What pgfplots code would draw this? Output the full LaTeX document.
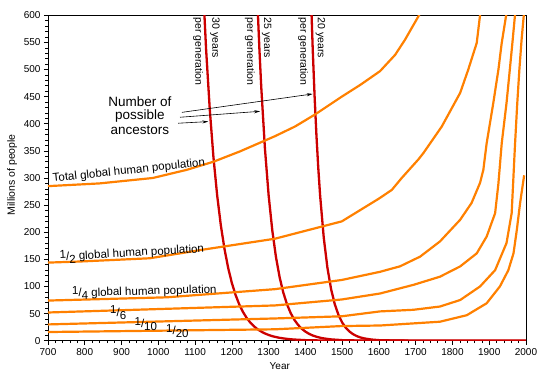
\documentclass[border=0pt]{standalone}
\usepackage{pgfplots}
\pgfplotsset{compat=1.18}
\usetikzlibrary{arrows.meta}
\usepackage{fontspec}
\setmainfont{Liberation Sans}
\definecolor{popor}{RGB}{255,128,0}
\definecolor{ancred}{RGB}{204,0,0}
\newcommand{\fr}[2]{\raisebox{0.4ex}{#1}/\raisebox{-0.5ex}{#2}}
\begin{document}
\begin{tikzpicture}
\path[use as bounding box] (-48pt,-41.3pt) rectangle (502pt,340.7pt);
\begin{axis}[
  at={(0,0)}, anchor=south west,
  scale only axis, width=478pt, height=325.4pt,
  xmin=700, xmax=2000, ymin=0, ymax=600,
  xtick={700,800,...,2000}, ytick={0,50,...,600},
  minor x tick num=4, minor y tick num=4,
  tick align=outside, xtick pos=left, ytick pos=left,
  major tick length=4pt, minor tick length=2.5pt,
  tick style={black, line width=0.6pt},
  axis line style={black, line width=0.8pt},
  /pgf/number format/assume math mode=true,
  /pgf/number format/set thousands separator={},
  ticklabel style={font=\fontsize{10}{12}\selectfont},
  xlabel={Year}, ylabel={Millions of people},
  xlabel style={font=\fontsize{10}{12}\selectfont, at={(axis description cs:0.485,-0.078)}, anchor=center},
  ylabel style={font=\fontsize{10.5}{12}\selectfont, at={(axis description cs:-0.075,0.51)}, anchor=center},
  clip mode=individual,
]
% ancestors curves (red)
\addplot[ancred, line width=2.3pt] coordinates {
(1115,759.3)(1120,676.4)(1130,536.9)(1140,426.1)(1150,338.2)(1160,268.4)(1170,213.1)(1180,169.1)(1190,134.2)(1200,106.5)(1210,84.6)(1220,67.1)(1230,53.3)(1240,42.3)(1250,33.6)(1260,26.6)(1270,21.1)(1280,16.8)(1290,13.3)(1300,10.6)(1310,8.4)(1320,6.7)(1330,5.3)(1340,4.2)(1360,2.6)(1380,1.7)(1400,1.0)(1450,0.3)(1500,0.1)(1600,0)(2000,0)};
\addplot[ancred, line width=2.3pt] coordinates {
(1265,708.4)(1270,616.7)(1275,536.9)(1280,467.4)(1290,354.2)(1300,268.4)(1310,203.4)(1320,154.2)(1330,116.8)(1340,88.6)(1350,67.1)(1360,50.9)(1370,38.5)(1380,29.2)(1390,22.1)(1400,16.8)(1410,12.7)(1420,9.6)(1430,7.3)(1440,5.5)(1450,4.2)(1470,2.4)(1500,1.0)(1550,0.3)(1600,0.1)(2000,0)};
\addplot[ancred, line width=2.3pt] coordinates {
(1410,759.3)(1415,638.5)(1420,536.9)(1425,451.4)(1430,379.6)(1435,319.2)(1440,268.4)(1450,189.8)(1460,134.2)(1470,94.9)(1480,67.1)(1490,47.5)(1500,33.6)(1510,23.7)(1520,16.8)(1530,11.9)(1540,8.4)(1550,5.9)(1560,4.2)(1580,2.1)(1600,1.0)(1650,0.2)(1700,0)(2000,0)};
% population curves (orange)
\addplot[popor, line width=2.2pt] coordinates {
(700,285)(840,290)(985,300)(1077,315)(1150,330)(1222,349)(1317,377)(1372,395)(1426,417)(1499,450)(1550,472)(1603,497)(1644,527)(1671,555)(1709,600)(1715,612)};
\addplot[popor, line width=2.2pt] coordinates {
(700,144)(787,146)(977,152)(1113,167)(1317,188)(1499,220)(1600,262)(1635,278)(1662,300)(1707,334)(1721,346)(1771,395)(1821,457)(1843,500)(1866,549)(1875,600)(1877,612)};
\addplot[popor, line width=2.2pt] coordinates {
(700,74)(1023,80)(1317,95)(1499,112)(1603,127)(1635,133)(1657,137)(1712,155)(1766,183)(1821,223)(1852,254)(1875,291)(1884,315)(1893,364)(1911,438)(1925,500)(1934,549)(1946,600)(1948,612)};
\addplot[popor, line width=2.2pt] coordinates {
(700,52)(1317,65)(1499,76)(1603,87)(1694,103)(1766,118)(1821,137)(1866,161)(1893,192)(1916,235)(1925,290)(1934,364)(1947,438)(1956,500)(1963,549)(1970,600)(1972,612)};
\addplot[popor, line width=2.2pt] coordinates {
(700,30)(1317,41)(1499,45)(1603,54)(1694,57)(1766,63)(1821,75)(1875,100)(1916,130)(1947,180)(1961,235)(1965,290)(1970,360)(1976,435)(1982,500)(1988,555)(1994,600)(1996,612)};
\addplot[popor, line width=2.2pt] coordinates {
(700,16)(1317,21)(1499,27)(1603,28)(1766,35)(1839,47)(1893,69)(1929,100)(1952,130)(1966,161)(1975,204)(1984,254)(1995,305)};
% labels
\node[rotate=6, font=\fontsize{11.5}{13}\selectfont, inner sep=0pt] at (axis cs:920,313) {Total global human population};
\node[rotate=3.3, font=\fontsize{11.5}{13}\selectfont, inner sep=0pt] at (axis cs:928,162) {\fr{1}{2} global human population};
\node[rotate=1.5, font=\fontsize{11.5}{13}\selectfont, inner sep=0pt] at (axis cs:962,91) {\fr{1}{4} global human population};
\node[font=\fontsize{11.5}{13}\selectfont, inner sep=0pt] at (axis cs:891,52) {\fr{1}{6}};
\node[font=\fontsize{11.5}{13}\selectfont, inner sep=0pt] at (axis cs:966,31) {\fr{1}{10}};
\node[font=\fontsize{11.5}{13}\selectfont, inner sep=0pt] at (axis cs:1052,18) {\fr{1}{20}};
\foreach \xa/\xb/\lab in {1154/1108/30, 1295/1249/25, 1441/1394/20}{
  \edef\tmp{\noexpand\node[rotate=-90, anchor=west, font=\noexpand\fontsize{10.5}{12}\noexpand\selectfont, inner sep=0pt] at (axis cs:\xa,596) {\lab\noexpand\ years};
  \noexpand\node[rotate=-90, anchor=west, font=\noexpand\fontsize{10.5}{12}\noexpand\selectfont, inner sep=0pt] at (axis cs:\xb,596) {per generation};}
  \tmp
}
\node[font=\fontsize{13.5}{15}\selectfont, inner sep=0pt] at (axis cs:950,441) {Number of};
\node[font=\fontsize{13.5}{15}\selectfont, inner sep=0pt] at (axis cs:950,414) {possible};
\node[font=\fontsize{13.5}{15}\selectfont, inner sep=0pt] at (axis cs:950,389) {ancestors};
\draw[black, line width=0.6pt, -{Stealth[length=6pt,width=3pt]}] (axis cs:1064,421) -- (axis cs:1420,455);
\draw[black, line width=0.6pt, -{Stealth[length=6pt,width=3pt]}] (axis cs:1059,412) -- (axis cs:1277,423);
\draw[black, line width=0.6pt, -{Stealth[length=6pt,width=3pt]}] (axis cs:1054,401) -- (axis cs:1136,404);
\end{axis}
\end{tikzpicture}
\end{document}
